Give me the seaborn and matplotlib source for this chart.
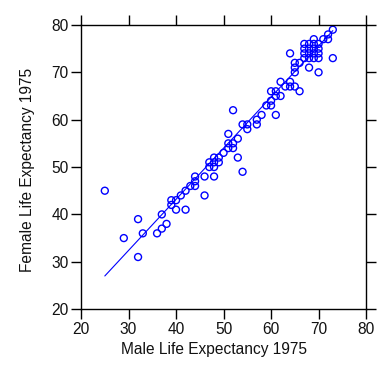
import numpy as np
import pandas as pd
import seaborn as sns
import matplotlib
matplotlib.use('Agg')
import matplotlib.pyplot as plt

# 数据: 1975年男性/女性预期寿命
male = [25, 29, 32, 32, 33, 36, 37, 38, 37, 39, 39, 40, 40, 41, 42, 42, 43, 44, 44, 44,
        46, 46, 48, 47, 47, 48, 48, 48, 49, 49, 50, 51, 51, 51, 52, 52, 52, 53, 53, 54,
        54, 55, 55, 57, 57, 58, 59, 60, 60, 60, 61, 61, 62, 61, 62, 63, 64, 64, 65, 66,
        64, 65, 65, 65, 66, 67, 67, 67, 67, 68, 68, 68, 68, 69, 69, 69, 69, 69, 70, 70,
        70, 70, 68, 70, 71, 72, 72, 73, 73]
female = [45, 35, 39, 31, 36, 36, 37, 38, 40, 42, 43, 43, 41, 44, 45, 41, 46, 46, 47, 48,
          48, 44, 48, 50, 51, 50, 51, 52, 51, 52, 53, 57, 54, 55, 55, 54, 62, 56, 52, 49,
          59, 59, 58, 59, 60, 61, 63, 63, 64, 66, 66, 65, 65, 61, 68, 67, 67, 68, 67, 66,
          74, 70, 71, 72, 72, 73, 74, 75, 76, 73, 74, 75, 76, 73, 74, 75, 76, 77, 73, 74,
          75, 76, 71, 70, 77, 77, 78, 79, 73]

# 拟合线
fit_x = [25, 73]
fit_y = [27.0, 78.8]

df = pd.DataFrame({'male': male, 'female': female})
fit = pd.DataFrame({'x': fit_x, 'y': fit_y})

sns.set_style('white')
plt.rcParams['font.family'] = ['Liberation Sans', 'DejaVu Sans']

fig = plt.figure(figsize=(3.77, 3.84), dpi=100)
ax = fig.add_axes([0.215, 0.195, 0.756, 0.74])

sns.scatterplot(data=df, x='male', y='female', ax=ax, marker='o', s=25,
                facecolors='none', edgecolor='#0000ff', linewidth=1.0)
sns.lineplot(data=fit, x='x', y='y', ax=ax, color='#0000ff', linewidth=0.8)

ax.set_xlim(20, 80)
ax.set_ylim(20, 80)
ticks = [20, 30, 40, 50, 60, 70, 80]
ax.set_xticks(ticks)
ax.set_yticks(ticks)
ax.tick_params(direction='out', length=7, width=1, color='black',
               labelsize=11.2, top=True, right=True, bottom=True, left=True,
               labelcolor='#111111', pad=2)
for sp in ax.spines.values():
    sp.set_color('black')
    sp.set_linewidth(1)
ax.set_xlabel('Male Life Expectancy 1975', fontsize=11.2, color='#111111')
ax.set_ylabel('Female Life Expectancy 1975', fontsize=11.2, color='#111111')
ax.xaxis.set_label_coords(0.465, -0.115)
ax.yaxis.set_label_coords(-0.16, 0.49)

fig.savefig('out.png', dpi=100)
